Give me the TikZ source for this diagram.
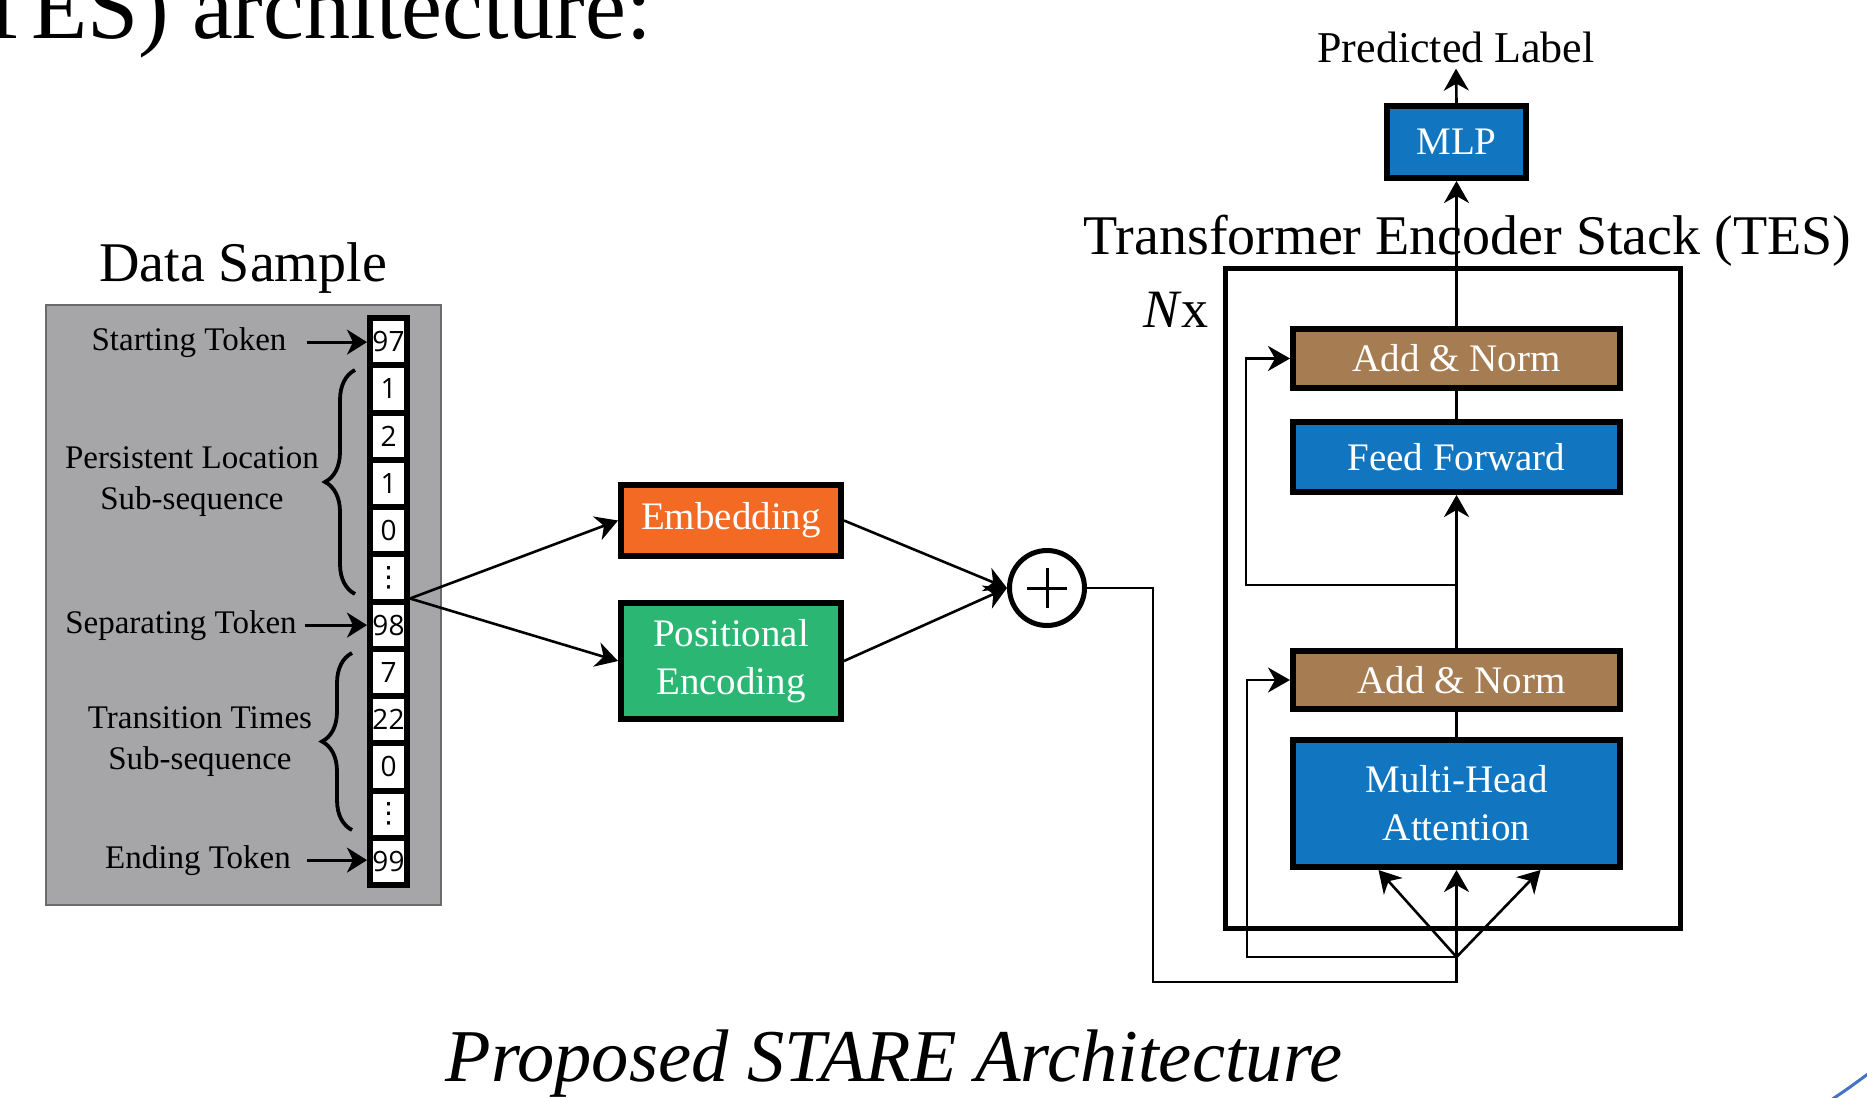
\documentclass[tikz,border=0pt]{standalone}
\usepackage{fontspec}
\setmainfont{Liberation Serif}
\newfontfamily\numfont{Open Sans}
\newfontfamily\symfont{DejaVu Sans}
\usetikzlibrary{arrows.meta,decorations.pathreplacing}

\definecolor{grayfill}{HTML}{A6A6A8}
\definecolor{grayedge}{HTML}{6A6A6A}
\definecolor{orangebox}{HTML}{F26A24}
\definecolor{greenbox}{HTML}{2BB673}
\definecolor{bluebox}{HTML}{1175BF}
\definecolor{brownbox}{HTML}{A67C52}
\definecolor{slideblue}{HTML}{4472C4}

\begin{document}
\begin{tikzpicture}[x=1pt,y=-1pt,
  cell/.style={draw=black, line width=6pt, fill=white, minimum width=37pt,
    minimum height=47.25pt, inner sep=0pt, font=\numfont\fontsize{28}{30}\selectfont},
  lbl/.style={inner sep=0pt, font=\fontsize{33}{41}\selectfont, align=center},
  box/.style={draw=black, line width=6pt, text=white, inner sep=0pt,
    font=\fontsize{39}{48}\selectfont, align=center},
  conn/.style={line width=2.6pt},
  arr/.style={line width=2.6pt, -{Stealth[length=22pt,width=25pt,inset=7pt]}},
  sarr/.style={line width=2.8pt, -{Stealth[length=20pt,width=25pt,inset=6pt]}},
  bracestyle/.style={decorate, decoration={brace, amplitude=30pt}, line width=3.8pt},
]
\useasboundingbox (0,0) rectangle (1867,1097);
\fill[white] (0,0) rectangle (1867,1097);
\clip (0,0) rectangle (1867,1097);

% cut-off slide text at the top
\node[anchor=base east, inner sep=0pt, font=\fontsize{92}{100}\selectfont] (toptext) at (652,39) {(TES) architecture:};

% ---------- Data sample ----------
\node[anchor=base, inner sep=0pt, font=\fontsize{56}{60}\selectfont] (dstitle) at (243,281) {Data Sample};
\node[draw=grayedge, line width=2pt, fill=grayfill, minimum width=395pt, minimum height=600pt, inner sep=0pt] (ds) at (243.5,605) {};

\foreach \t [count=\i from 0] in {97,1,2,1,0,{\symfont ⋮},98,7,22,0,{\symfont ⋮},99}
  \node[cell] (c\i) at (388.5,341.625+47.25*\i) {\t};

\node[lbl, anchor=base] (lst) at (189,350) {Starting Token};
\node[lbl] (lpl) at (192,482) {Persistent Location\\Sub-sequence};
\node[lbl, anchor=base] (lsep) at (181,633) {Separating Token};
\node[lbl] (ltt) at (200,742) {Transition Times\\Sub-sequence};
\node[lbl, anchor=base] (lend) at (198,868) {Ending Token};

\draw[sarr] (lst.east) ++(20,0) -- (lst.east -| c0.west);
\draw[sarr] (lsep.east) ++(8,0) -- (lsep.east -| c6.west);
\draw[sarr] (lend.east) ++(16,0) -- (lend.east -| c11.west);

\draw[bracestyle] (355,594) -- (355,370);
\draw[bracestyle] (352,830) -- (352,653);

% ---------- Embedding ----------
\node[box, fill=orangebox, minimum width=220pt, minimum height=71pt] (emb) at (731,520.5) {Embedding};
\node[box, fill=greenbox, minimum width=220pt, minimum height=116pt] (pos) at (731,661) {Positional\\Encoding};
\node[circle, draw, line width=5pt, minimum size=75pt, inner sep=0pt] (plus) at (1047,588) {};
\draw[line width=3pt] (plus.center) ++(-20,0) -- ++(40,0);
\draw[line width=3pt] (plus.center) ++(0,-20) -- ++(0,40);

\draw[arr] (c6.north east) -- (emb.west);
\draw[arr] (c6.north east) -- (pos.west);
\draw[arr] (emb.east) -- (plus.west);
\draw[arr] (pos.east) -- (plus.west);

% ---------- TES ----------
\node[anchor=base, inner sep=0pt, font=\fontsize{44}{48}\selectfont] (pred) at (1456,63) {Predicted Label};
\node[box, fill=bluebox, minimum width=139pt, minimum height=72pt] (mlp) at (1456.5,142) {MLP};
\node[anchor=base, inner sep=0pt, font=\fontsize{56}{60}\selectfont] (testitle) at (1467.5,254) {Transformer Encoder Stack (TES)};
\node[draw, line width=5pt, minimum width=455pt, minimum height=660pt, inner sep=0pt] (tes) at (1452.5,598) {};
\node[anchor=base, inner sep=0pt, font=\fontsize{54}{60}\selectfont] (nx) at (1176,327) {\textit{N}x};

\node[box, fill=brownbox, minimum width=327pt, minimum height=59pt] (an2) at (1456.5,358.5) {Add \& Norm};
\node[box, fill=bluebox, minimum width=327pt, minimum height=70pt] (ff) at (1456.5,457) {Feed Forward};
\node[box, fill=brownbox, minimum width=327pt, minimum height=58pt] (an1) at (1456.5,680) {\hspace{10pt}Add \& Norm};
\node[box, fill=bluebox, minimum width=327pt, minimum height=127pt] (mha) at (1456.5,803.5) {Multi-Head\\Attention};

\coordinate (j1) at (1456.5,585);
\coordinate (j0) at (1456.5,957);
\coordinate (inx) at (1153,982);
\coordinate (sx2) at (1246,0);
\coordinate (sx1) at (1247,0);

\draw[arr] (mlp.north) -- ([yshift=-5pt]pred.south);
\draw[arr] (an2.north) -- (mlp.south);
\draw[conn] (ff.north) -- (an2.south);
\draw[arr] (an1.north) -- (ff.south);
\draw[conn] (mha.north) -- (an1.south);
\draw[arr] (j1) -- (j1 -| sx2) |- (an2.west);

\draw[conn] (plus.east) -| (inx) -| (j0);
\draw[arr] (j0) -- (j0 -| sx1) |- (an1.west);
\draw[arr] (j0) -- ([xshift=-78pt]mha.south);
\draw[arr] (j0) -- (mha.south);
\draw[arr] (j0) -- ([xshift=84pt]mha.south);

% ---------- caption ----------
\node[anchor=base, inner sep=0pt, font=\itshape\fontsize{74.5}{80}\selectfont] (caption) at (894,1081) {Proposed STARE Architecture};

% fragment of a slide curve at the corner
\draw[slideblue, line width=3pt] (1828,1102) .. controls (1846,1090) .. (1872,1071);
\end{tikzpicture}
\end{document}
